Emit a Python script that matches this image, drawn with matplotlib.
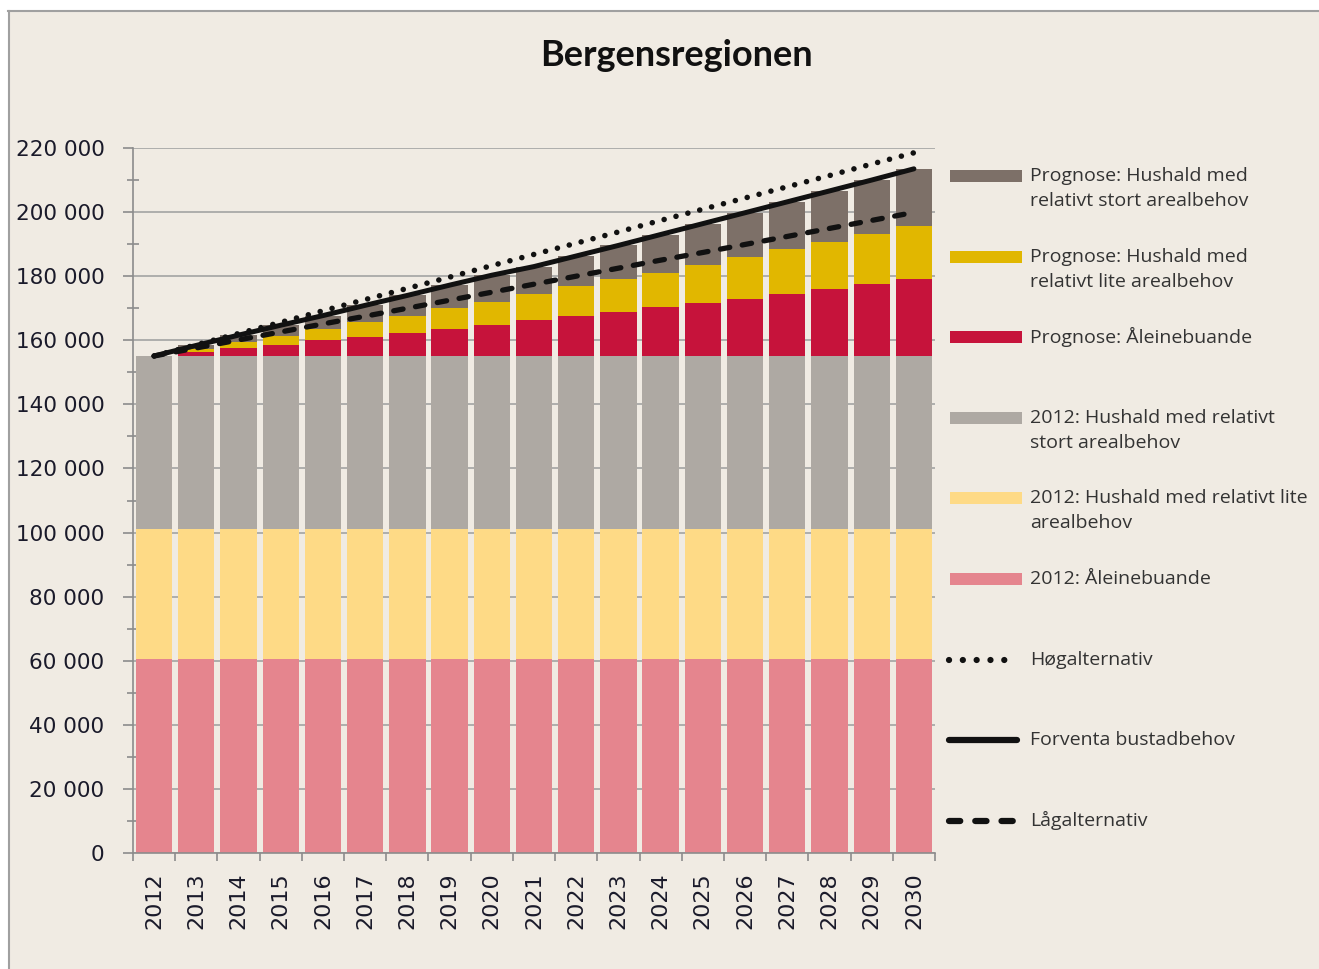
import matplotlib
matplotlib.use("Agg")
import numpy as np
import matplotlib.pyplot as plt
from matplotlib.patches import Rectangle
from matplotlib.lines import Line2D

# data (households)
years = [str(y) for y in range(2012, 2031)]
base_aleine = 60500   # 2012: Åleinebuande
base_lite = 40600     # 2012: Hushald med relativt lite arealbehov
base_stort = 54000    # 2012: Hushald med relativt stort arealbehov
prog_aleine = [0, 1100, 2400, 3500, 4900, 6000, 7300, 8500, 9800, 11200,
               12500, 13700, 15200, 16600, 17800, 19400, 20800, 22500, 23900]
prog_lite = [0, 1100, 1900, 2700, 3500, 4600, 5300, 6400, 7100, 8000,
             9200, 10200, 10800, 11900, 13000, 13900, 14900, 15500, 16600]
prog_stort = [0, 1100, 2200, 3400, 4200, 5200, 6300, 7200, 8300, 8700,
              9500, 10600, 11900, 12800, 13900, 14800, 15800, 16900, 17900]
hog = [155100, 158600, 162100, 165600, 169200, 172700, 176200, 179700, 183300, 186800,
       190300, 193800, 197400, 200900, 204400, 207900, 211400, 215000, 218500]
forventa = [155100, 158400, 161600, 164700, 167700, 170900, 174000, 177200, 180300, 183000,
            186300, 189600, 193000, 196400, 199800, 203200, 206600, 210000, 213500]
lag = [155100, 157600, 160100, 162600, 165100, 167500, 170000, 172500, 175000, 177500,
       180000, 182500, 185000, 187400, 189900, 192400, 194900, 197400, 199900]

W, H = 1319, 969
BG = "#F0EBE3"
colors = {
    "ps": "#7D7068", "pl": "#E1B700", "pa": "#C6133B",
    "bs": "#AEA9A3", "bl": "#FEDA86", "ba": "#E5858E",
}


def fx(px):
    return px / W


def fy(py):
    return 1 - py / H


fig = plt.figure(figsize=(W / 100, H / 100), dpi=100, facecolor=BG)

# white margin + grey frame at top/left
fig.add_artist(Rectangle((0, fy(10)), 1, 10 / H, transform=fig.transFigure,
                         facecolor="white", edgecolor="none"))
fig.add_artist(Rectangle((0, 0), 8 / W, 1, transform=fig.transFigure,
                         facecolor="white", edgecolor="none"))
fig.add_artist(Line2D([fx(8), 1], [fy(10.5), fy(10.5)], transform=fig.transFigure,
                      color="#a0a0a0", lw=1.5))
fig.add_artist(Line2D([fx(8.5), fx(8.5)], [0, fy(10.5)], transform=fig.transFigure,
                      color="#a0a0a0", lw=1.5))

ax = fig.add_axes([fx(133), fy(853), (935 - 133) / W, (853 - 148) / H])
ax.set_facecolor("none")

x = np.arange(len(years))
n = len(years)
bw = 0.86
b1 = np.full(n, base_aleine)
b2 = np.full(n, base_lite)
b3 = np.full(n, base_stort)
ax.bar(x, b1, bw, color=colors["ba"], zorder=2)
ax.bar(x, b2, bw, bottom=b1, color=colors["bl"], zorder=2)
ax.bar(x, b3, bw, bottom=b1 + b2, color=colors["bs"], zorder=2)
base = b1 + b2 + b3
pa = np.array(prog_aleine)
pl = np.array(prog_lite)
ps = np.array(prog_stort)
ax.bar(x, pa, bw, bottom=base, color=colors["pa"], zorder=2)
ax.bar(x, pl, bw, bottom=base + pa, color=colors["pl"], zorder=2)
ax.bar(x, ps, bw, bottom=base + pa + pl, color=colors["ps"], zorder=2)

dot_style = (0, (0.01, 2.2))
dash_style = (0, (1.8, 2.4))
ax.plot(x, hog, color="#111111", lw=4, linestyle=dot_style,
        dash_capstyle="round", zorder=4)
ax.plot(x, forventa, color="#111111", lw=3.6, solid_capstyle="round", zorder=4)
ax.plot(x, lag, color="#111111", lw=3.8, linestyle=dash_style,
        dash_capstyle="round", zorder=4)

ax.set_xlim(-0.5, n - 0.5)
ax.set_ylim(0, 220000)

ax.set_yticks(range(0, 220001, 20000))
ax.set_yticks(range(10000, 220000, 20000), minor=True)
ax.set_yticklabels([f"{v:,}".replace(",", " ") for v in range(0, 220001, 20000)])
ax.tick_params(axis="y", which="major", direction="out", length=7.5, width=1.2,
               color="#8c8c8c", labelsize=15.5, labelcolor="#1a1a2a", pad=13)
ax.tick_params(axis="y", which="minor", direction="inout", length=9, width=1.2,
               color="#8c8c8c")

ax.set_xticks(x)
ax.set_xticklabels(years, rotation=90)
ax.set_xticks(np.arange(-0.5, n, 1), minor=True)
ax.tick_params(axis="x", which="major", length=0, labelsize=16,
               labelcolor="#1a1a2a", pad=14)
ax.tick_params(axis="x", which="minor", direction="out", length=6, width=1.2,
               color="#8c8c8c")

ax.yaxis.grid(True, which="major", color="#a3a3a3", lw=1.2, zorder=0)
ax.set_axisbelow(True)
for side in ["top", "right"]:
    ax.spines[side].set_visible(False)
for side in ["left", "bottom"]:
    ax.spines[side].set_color("#8c8c8c")
    ax.spines[side].set_linewidth(1.2)
    ax.spines[side].set_zorder(5)

fig.text(fx(676), fy(56), "Bergensregionen", fontfamily="Lato", fontweight="bold",
         fontsize=26, ha="center", va="center", color="#111111")

# legend, drawn by hand to follow the spacing in the reference
legend_items = [
    ("Prognose: Hushald med\nrelativt stort arealbehov", "patch", colors["ps"]),
    ("Prognose: Hushald med\nrelativt lite arealbehov", "patch", colors["pl"]),
    ("Prognose: Åleinebuande", "patch", colors["pa"]),
    ("2012: Hushald med relativt\nstort arealbehov", "patch", colors["bs"]),
    ("2012: Hushald med relativt lite\narealbehov", "patch", colors["bl"]),
    ("2012: Åleinebuande", "patch", colors["ba"]),
    ("Høgalternativ", dot_style, None),
    ("Forventa bustadbehov", "-", None),
    ("Lågalternativ", dash_style, None),
]
for i, (label, kind, c) in enumerate(legend_items):
    yp = 176 + i * 80.6
    if kind == "patch":
        fig.add_artist(Rectangle((fx(950), fy(yp + 6)), 72 / W, 12 / H,
                                 transform=fig.transFigure, facecolor=c,
                                 edgecolor="none"))
    else:
        fig.add_artist(Line2D([fx(949), fx(1017)], [fy(yp), fy(yp)],
                              transform=fig.transFigure, color="#111111",
                              lw=4.5, linestyle=kind, dash_capstyle="round",
                              solid_capstyle="round"))
    for k, line in enumerate(label.split("\n")):
        fig.text(fx(1030), fy(yp + k * 25), line, fontfamily="Open Sans",
                 fontsize=14, color="#333333", ha="left", va="center")

fig.savefig("out.png", dpi=100, facecolor=fig.get_facecolor())
